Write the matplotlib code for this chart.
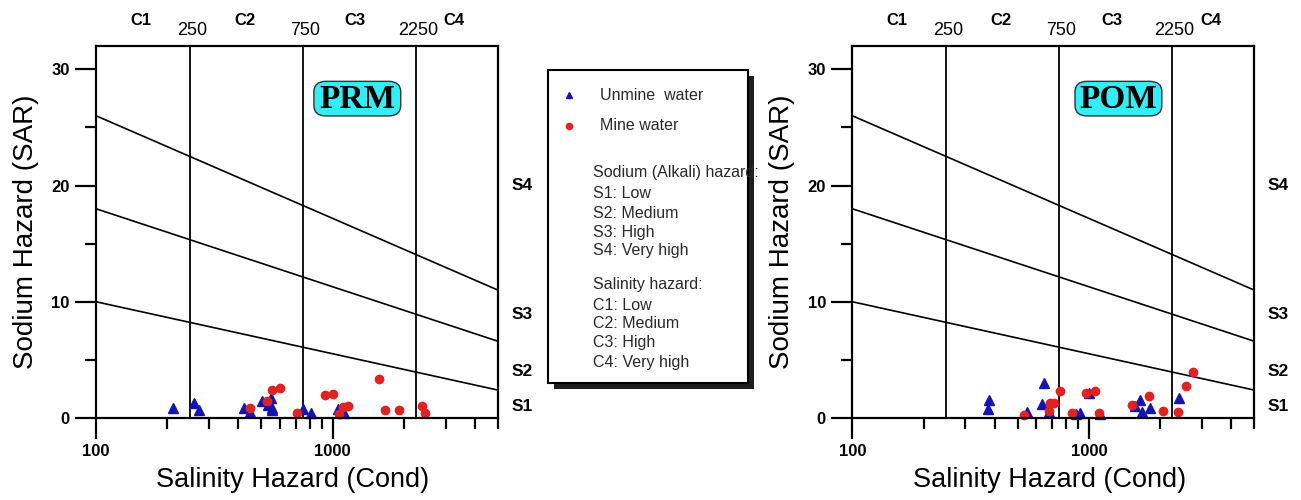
import matplotlib
matplotlib.use("Agg")
import matplotlib.pyplot as plt
from matplotlib.patches import Rectangle, FancyBboxPatch
from matplotlib.ticker import FixedLocator, NullFormatter
import matplotlib.transforms as mtransforms

plt.rcParams['font.family'] = ['Liberation Sans', 'DejaVu Sans']

# salinity class boundaries (cond) and labels
class_limits = [250, 750, 2250]
class_names = ["C1", "C2", "C3", "C4"]
class_name_x = [155, 424, 1248, 3272]

# sodium hazard boundaries: SAR at cond = 100 and at cond = 5000
bound_cond = [100, 5000]
bound_sar_left = [10, 18, 26]
bound_sar_right = [2.4, 6.6, 11.0]
sodium_names = ["S1", "S2", "S3", "S4"]
sodium_name_y = [0.97, 4.0, 8.9, 20.0]

# PRM samples
prm_unmine_ec = [211, 259, 272, 424, 448, 501, 549, 531, 552, 556, 749, 811, 1049, 1119, 1083]
prm_unmine_sar = [0.83, 1.26, 0.69, 0.89, 0.49, 1.49, 1.69, 1.12, 0.83, 0.70, 0.75, 0.40, 0.75, 0.40, 0.55]
prm_mine_ec = [448, 526, 552, 602, 707, 932, 1007, 1101, 1167, 1067, 1568, 1671, 1914, 2381, 2455]
prm_mine_sar = [0.83, 1.49, 2.41, 2.60, 0.40, 1.98, 2.09, 0.97, 1.03, 0.32, 3.38, 0.72, 0.72, 1.03, 0.46]

# POM samples
pom_unmine_ec = [378, 375, 548, 646, 636, 678, 914, 885, 1000, 1110, 1637, 1560, 1675, 1816, 2414]
pom_unmine_sar = [1.55, 0.77, 0.54, 3.04, 1.18, 0.54, 0.46, 0.35, 2.18, 0.34, 1.55, 1.03, 0.54, 0.89, 1.69]
pom_mine_ec = [532, 676, 683, 710, 757, 851, 968, 1060, 1099, 1518, 1786, 2065, 2384, 2577, 2747]
pom_mine_sar = [0.26, 0.60, 1.26, 1.32, 2.35, 0.40, 2.12, 2.32, 0.46, 1.12, 1.92, 0.60, 0.54, 2.78, 3.93]

blue = '#1414b4'
red = '#e02222'

fig = plt.figure(figsize=(13.01, 5), dpi=100)


def wilcox(ax, unmine_x, unmine_y, mine_x, mine_y, name, box_x):
    ax.set_xscale('log')
    ax.set_xlim(100, 5000)
    ax.set_ylim(0, 32)

    for c in class_limits:
        ax.plot([c, c], [0, 32], color='black', lw=1.3)
    for a, b in zip(bound_sar_left, bound_sar_right):
        ax.plot(bound_cond, [a, b], color='black', lw=1.2)

    ax.plot(unmine_x, unmine_y, '^', color=blue, ms=7.5, ls='none', clip_on=False)
    ax.plot(mine_x, mine_y, 'o', color=red, ms=6, ls='none', clip_on=False)

    ax.xaxis.set_major_locator(FixedLocator([100, 1000]))
    ax.xaxis.set_minor_locator(FixedLocator([200, 300, 400, 500, 600, 700, 800, 900,
                                             2000, 3000, 4000, 5000]))
    ax.xaxis.set_minor_formatter(NullFormatter())
    ax.set_xticklabels(['100', '1000'])
    ax.yaxis.set_major_locator(FixedLocator([0, 10, 20, 30]))
    ax.yaxis.set_minor_locator(FixedLocator([5, 15, 25]))
    ax.tick_params(which='major', direction='out', length=15, width=1.6,
                   labelsize=12, pad=4)
    ax.tick_params(which='minor', direction='out', length=8, width=1.6)
    for lab in ax.get_xticklabels() + ax.get_yticklabels():
        lab.set_fontweight('bold')
    for s in ax.spines.values():
        s.set_linewidth(1.6)

    ax.text(-0.175, 0.5, "Sodium Hazard (SAR)", transform=ax.transAxes,
            rotation=90, ha='center', va='center', fontsize=20)
    ax.text(0.49, -0.167, "Salinity Hazard (Cond)", transform=ax.transAxes,
            ha='center', va='center', fontsize=19.5)

    trans = mtransforms.blended_transform_factory(ax.transData, ax.transAxes)
    for x, t in zip(class_name_x, class_names):
        ax.text(x, 1.068, t, transform=trans, ha='center', va='center',
                fontsize=12, fontweight='bold')
    for c in class_limits:
        ax.text(c * 1.02, 1.043, str(c), transform=trans, ha='center', va='center',
                fontsize=13)

    trans2 = mtransforms.blended_transform_factory(ax.transAxes, ax.transData)
    for y, t in zip(sodium_name_y, sodium_names):
        ax.text(1.06, y, t, transform=trans2, ha='center', va='center',
                fontsize=12.5, fontweight='bold')

    box = FancyBboxPatch((box_x, 0.812), 0.216, 0.093, transform=ax.transAxes,
                         boxstyle='round,pad=0,rounding_size=0.03',
                         fc='#33eef6', ec='#333333', lw=1, zorder=5,
                         mutation_aspect=372 / 402)
    ax.add_patch(box)
    ax.text(box_x + 0.108, 0.857, name, transform=ax.transAxes, ha='center',
            va='center', fontsize=24, fontweight='bold', family='Liberation Serif',
            zorder=6)


ax1 = fig.add_axes([96 / 1301, 82 / 500, 402 / 1301, 372 / 500])
wilcox(ax1, prm_unmine_ec, prm_unmine_sar, prm_mine_ec, prm_mine_sar, "PRM", 0.542)

ax2 = fig.add_axes([852.3 / 1301, 82 / 500, 402 / 1301, 372 / 500])
wilcox(ax2, pom_unmine_ec, pom_unmine_sar, pom_mine_ec, pom_mine_sar, "POM", 0.554)

# legend panel
lg = fig.add_axes([548 / 1301, 117 / 500, 200 / 1301, 313 / 500])
lg.set_xlim(0, 200)
lg.set_ylim(313, 0)
lg.axis('off')
lg.add_patch(Rectangle((6, 6), 200, 313, fc='#1e1e1e', ec='none', clip_on=False, zorder=1))
lg.add_patch(Rectangle((0, 0), 200, 313, fc='white', ec='black', lw=1.5, clip_on=False, zorder=2))

txt = '#2a2a2a'
lg.plot([21], [25], '^', color=blue, ms=5, zorder=3)
lg.text(52, 25, "Unmine  water", fontsize=11.5, color=txt, va='center', zorder=3)
lg.plot([21], [56], 'o', color=red, ms=4.5, zorder=3)
lg.text(52, 56, "Mine water", fontsize=11.5, color=txt, va='center', zorder=3)

legend_lines = ["Sodium (Alkali) hazard:", "S1: Low", "S2: Medium", "S3: High", "S4: Very high",
                "Salinity hazard:", "C1: Low", "C2: Medium", "C3: High", "C4: Very high"]
legend_y = [103, 123, 143, 162, 181, 215, 235, 254, 273, 292]
for y, t in zip(legend_y, legend_lines):
    lg.text(45, y, t, fontsize=11.5, color=txt, va='center', zorder=3)

fig.savefig("out.png", dpi=100)
